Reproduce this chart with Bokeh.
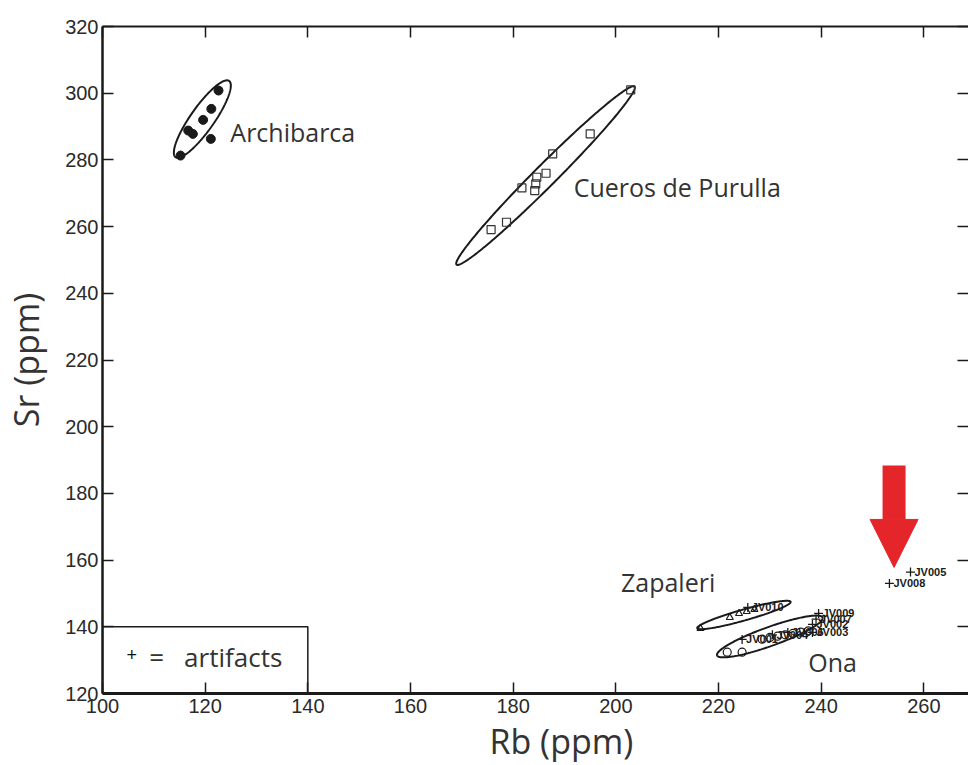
import numpy as np
from bokeh.plotting import figure
from bokeh.models import LinearAxis, SingleIntervalTicker, Label, Arrow, NormalHead, Title, CustomJSTickFormatter
from bokeh.core.properties import value
from bokeh.embed import file_html
from bokeh.resources import INLINE

# ---------------- data ----------------
archi_rb = [122.6, 121.2, 119.6, 116.7, 117.6, 121.1, 115.2]
archi_sr = [300.8, 295.3, 292.0, 288.8, 287.8, 286.3, 281.3]

cueros_rb = [202.9, 195.0, 187.7, 186.4, 184.6, 184.4, 184.2, 181.7, 178.7, 175.7]
cueros_sr = [301.0, 287.8, 281.8, 276.0, 274.8, 272.8, 270.8, 271.6, 261.3, 259.1]

zapaleri_rb = [216.5, 222.2, 224.0, 225.5, 227.0]
zapaleri_sr = [139.5, 142.8, 144.0, 144.6, 145.2]

ona_rb = [221.7, 224.6, 228.5, 230.0, 231.5, 233.0, 234.5, 236.0, 237.5]
ona_sr = [132.4, 132.4, 136.3, 136.8, 137.2, 137.6, 138.0, 138.4, 138.8]

art_names = ["JV001", "JV002", "JV003", "JV004", "JV005", "JV006", "JV007", "JV008", "JV009", "JV010"]
art_rb = [224.6, 238.3, 238.3, 230.5, 257.4, 233.5, 239.0, 253.3, 239.5, 225.7]
art_sr = [136.2, 140.7, 138.3, 137.6, 156.4, 138.3, 142.3, 153.0, 144.0, 145.8]

# group ellipses: centre, vector to the x-extreme point, vertical half chord
ell_names = ["Archibarca", "Cueros de Purulla", "Zapaleri", "Ona"]
ell_cx = [119.45, 186.3, 224.95, 230.0]
ell_cy = [292.25, 275.3, 143.54, 137.1]
ell_ux = [5.55, 17.4, 9.1, 10.3]
ell_uy = [10.05, 26.4, 3.9, 5.5]
ell_h = [5.8, 4.6, 1.7, 3.0]

# group name labels
grp_names = ["Archibarca", "Cueros de Purulla", "Zapaleri", "Ona"]
grp_rb = [124.9, 191.8, 201.0, 237.5]
grp_sr = [288.5, 272.0, 153.3, 129.3]

x_ticks_interval = 20
y_ticks_interval = 20
X_RANGE = (100, 268.7)
Y_RANGE = (120, 320)

legend_rb = [100, 140]
legend_sr = [120, 140]

arrow_rb = 254.2
arrow_sr_top = 188.4
arrow_sr_tip = 157.8

RED = "#e4252a"
INK = "#1a1a1a"

# ---------------- figure ----------------
p = figure(width=968, height=765, x_range=X_RANGE, y_range=Y_RANGE,
           output_backend="svg", toolbar_location=None,
           min_border_left=101, min_border_right=0, min_border_top=26, min_border_bottom=72,
           x_axis_location=None, y_axis_location=None)
p.xgrid.visible = False
p.ygrid.visible = False
p.outline_line_color = None
p.background_fill_color = "white"
p.border_fill_color = "white"

def make_axis(interval, show_labels, line_width, line_color=INK):
    ax = LinearAxis(ticker=SingleIntervalTicker(interval=interval, num_minor_ticks=0))
    ax.major_tick_in = 11
    ax.major_tick_out = 0
    ax.major_tick_line_width = 1.5
    ax.major_tick_line_color = INK
    ax.minor_tick_line_color = None
    ax.axis_line_width = line_width
    ax.axis_line_color = line_color
    if show_labels:
        ax.major_label_text_font = "Liberation Sans"
        ax.major_label_text_font_size = "20px"
        ax.major_label_text_color = "#2a2a2a"
    else:
        ax.formatter = CustomJSTickFormatter(code="return ''")
        ax.major_label_standoff = 0
    return ax

bottom = make_axis(x_ticks_interval, True, 3)
bottom.major_label_standoff = 5
left = make_axis(y_ticks_interval, True, 2.5)
left.major_label_standoff = 4
left.axis_label = "Sr (ppm)"
left.axis_label_text_font = "Open Sans"
left.axis_label_text_font_size = "34px"
left.axis_label_text_font_style = "normal"
left.axis_label_text_color = "#333"
left.axis_label_standoff = 13
top = make_axis(x_ticks_interval, False, 2)
right = make_axis(y_ticks_interval, False, 2, line_color=None)
p.add_layout(bottom, "below")
p.add_layout(left, "left")
p.add_layout(top, "above")
p.add_layout(right, "right")

xtitle = Title(text="Rb (ppm)", align="left", offset=387, text_font="Open Sans",
               text_font_size="34px", text_font_style="normal", text_color="#333", standoff=0)
p.add_layout(xtitle, "below")

# legend box
p.quad(left=[legend_rb[0]], right=[legend_rb[1]], bottom=[legend_sr[0]], top=[legend_sr[1]],
       fill_color="white", line_color=INK, line_width=1.5)
p.add_layout(Label(x=105.7, y=131.6, text="+", text_font="Liberation Sans", text_font_size="18px",
                   text_align="center", text_baseline="middle", text_color="#111"))
p.add_layout(Label(x=109.1, y=130.9, text="=", text_font="Open Sans", text_font_size="26px",
                   text_align="left", text_baseline="middle", text_color="#333"))
p.add_layout(Label(x=115.9, y=130.9, text="artifacts", text_font="Open Sans", text_font_size="26px",
                   text_align="left", text_baseline="middle", text_color="#333"))

# ellipses
t = np.linspace(0, 2 * np.pi, 240)
exs, eys = [], []
for cx, cy, ux, uy, h in zip(ell_cx, ell_cy, ell_ux, ell_uy, ell_h):
    exs.append(list(cx + ux * np.cos(t)))
    eys.append(list(cy + uy * np.cos(t) + h * np.sin(t)))
p.multi_line(exs, eys, line_color=INK, line_width=2)

# points
p.scatter(archi_rb, archi_sr, marker="circle", size=9, fill_color=INK, line_color=INK)
p.scatter(cueros_rb, cueros_sr, marker="square", size=8, fill_color=None, line_color="#333", line_width=1.2)
p.scatter(zapaleri_rb, zapaleri_sr, marker="triangle", size=7, fill_color=None, line_color=INK, line_width=1.2)
p.scatter(ona_rb, ona_sr, marker="circle", size=8, fill_color=None, line_color=INK, line_width=1.2)
p.scatter(art_rb, art_sr, marker="cross", size=9, line_color=INK, line_width=1.3)
p.text(art_rb, art_sr, text=art_names, x_offset=4, text_font=value("Liberation Sans"),
       text_font_size="11px", text_font_style="bold", text_baseline="middle", text_color=INK)

# group labels
p.text(grp_rb, grp_sr, text=grp_names, text_font=value("Open Sans"), text_font_size="25px",
       text_baseline="middle", text_align="left", text_color="#333")

# red arrow
p.add_layout(Arrow(end=NormalHead(size=48, fill_color=RED, line_color=RED, line_width=1),
                   x_start=arrow_rb, y_start=arrow_sr_top, x_end=arrow_rb, y_end=arrow_sr_tip,
                   line_color=RED, line_width=23, line_cap="butt"))

open("out.html", "w").write(file_html(p, INLINE))
